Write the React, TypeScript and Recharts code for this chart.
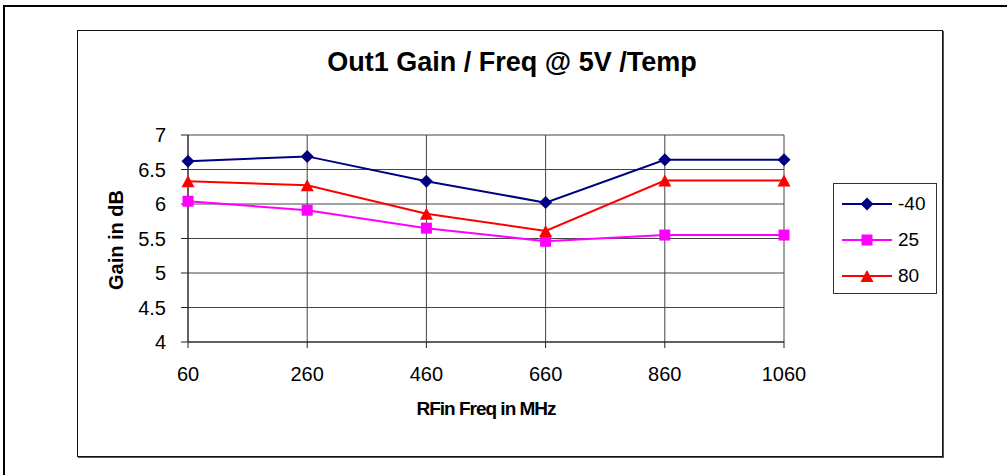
import React from "react";
import { CartesianGrid, Line, LineChart, XAxis, YAxis } from "recharts";

const freqs = ["60", "260", "460", "660", "860", "1060"];
const gainM40 = [6.62, 6.69, 6.33, 6.02, 6.64, 6.64];
const gain25 = [6.04, 5.91, 5.65, 5.46, 5.55, 5.55];
const gain80 = [6.33, 6.27, 5.86, 5.61, 6.34, 6.34];
const yTicks = [4, 4.5, 5, 5.5, 6, 6.5, 7];

const series = [
  { key: "m40", name: "-40", color: "#000080", shape: "diamond", values: gainM40 },
  { key: "t25", name: "25", color: "#FF00FF", shape: "square", values: gain25 },
  { key: "t80", name: "80", color: "#FF0000", shape: "triangle", values: gain80 },
];

const FONT = '"Liberation Sans", Arial, sans-serif';

function markerShape(shape: string, color: string, cx: number, cy: number) {
  if (shape === "diamond") {
    return (
      <polygon
        points={`${cx},${cy - 6.5} ${cx + 6.5},${cy} ${cx},${cy + 6.5} ${cx - 6.5},${cy}`}
        fill={color}
      />
    );
  }
  if (shape === "square") {
    return <rect x={cx - 5.5} y={cy - 5.5} width={11} height={11} fill={color} />;
  }
  return (
    <polygon
      points={`${cx},${cy - 6} ${cx + 6.5},${cy + 6} ${cx - 6.5},${cy + 6}`}
      fill={color}
    />
  );
}

const makeDot = (shape: string, color: string) => (props: any) => {
  const { cx, cy, index } = props;
  if (cx == null || cy == null) return <g key={index} />;
  return <g key={index}>{markerShape(shape, color, cx, cy)}</g>;
};

export default function App() {
  const data = freqs.map((f, i) => ({
    freq: f,
    m40: gainM40[i],
    t25: gain25[i],
    t80: gain80[i],
  }));

  return (
    <div
      style={{
        position: "absolute",
        left: 0,
        top: 0,
        width: 1007,
        height: 475,
        overflow: "hidden",
        background: "#fff",
        fontFamily: FONT,
      }}>
      {/* outer page frame */}
      <div
        style={{
          position: "absolute",
          left: 3,
          top: 5,
          width: 1100,
          height: 600,
          borderTop: "2px solid #000",
          borderLeft: "2px solid #000",
        }}
      />
      {/* chart area frame */}
      <div
        style={{
          position: "absolute",
          left: 77,
          top: 30,
          width: 864,
          height: 425,
          border: "1px solid #111",
          boxShadow: "1px 1px 0 #555",
        }}
      />

      <div
        style={{
          position: "absolute",
          left: 0,
          width: 1024,
          top: 47,
          textAlign: "center",
          fontSize: 27,
          fontWeight: "bold",
        }}>
        Out1 Gain / Freq @ 5V /Temp
      </div>

      <div
        style={{
          position: "absolute",
          left: 116,
          top: 240,
          transform: "translate(-50%, -50%) rotate(-90deg)",
          fontSize: 20,
          fontWeight: "bold",
          whiteSpace: "nowrap",
        }}>
        Gain in dB
      </div>

      <div
        style={{
          position: "absolute",
          left: 486,
          top: 409,
          transform: "translate(-50%, -50%)",
          fontSize: 19,
          fontWeight: "bold",
          letterSpacing: -1,
          whiteSpace: "nowrap",
        }}>
        RFin Freq in MHz
      </div>

      <div style={{ position: "absolute", left: 0, top: 0 }}>
        <LineChart
          width={1007}
          height={475}
          data={data}
          margin={{ top: 135, right: 223, bottom: 93, left: 128 }}>
          <CartesianGrid stroke="#444" strokeWidth={1} />
          <XAxis
            dataKey="freq"
            stroke="#222"
            tickSize={6}
            tickMargin={19}
            height={40}
            tick={{ fill: "#000", fontSize: 20, fontFamily: FONT }}
          />
          <YAxis
            domain={[4, 7]}
            ticks={yTicks}
            width={60}
            stroke="#222"
            tickSize={7}
            tickMargin={15}
            tick={{ fill: "#000", fontSize: 20, fontFamily: FONT }}
          />
          {series.map((s) => (
            <Line
              key={s.key}
              dataKey={s.key}
              name={s.name}
              stroke={s.color}
              strokeWidth={2}
              dot={makeDot(s.shape, s.color)}
              activeDot={false}
              isAnimationActive={false}
            />
          ))}
        </LineChart>
      </div>

      {/* legend */}
      <div
        style={{
          position: "absolute",
          left: 833,
          top: 183,
          width: 102,
          height: 109,
          border: "1px solid #333",
        }}>
        {series.map((s, i) => (
          <div
            key={s.key}
            style={{
              position: "absolute",
              left: 8,
              top: 8 + i * 36,
              height: 24,
              display: "flex",
              alignItems: "center",
            }}>
            <svg width={50} height={24}>
              <line x1={0} y1={12} x2={50} y2={12} stroke={s.color} strokeWidth={2} />
              {markerShape(s.shape, s.color, 25, 12)}
            </svg>
            <span style={{ marginLeft: 6, fontSize: 19 }}>{s.name}</span>
          </div>
        ))}
      </div>
    </div>
  );
}
